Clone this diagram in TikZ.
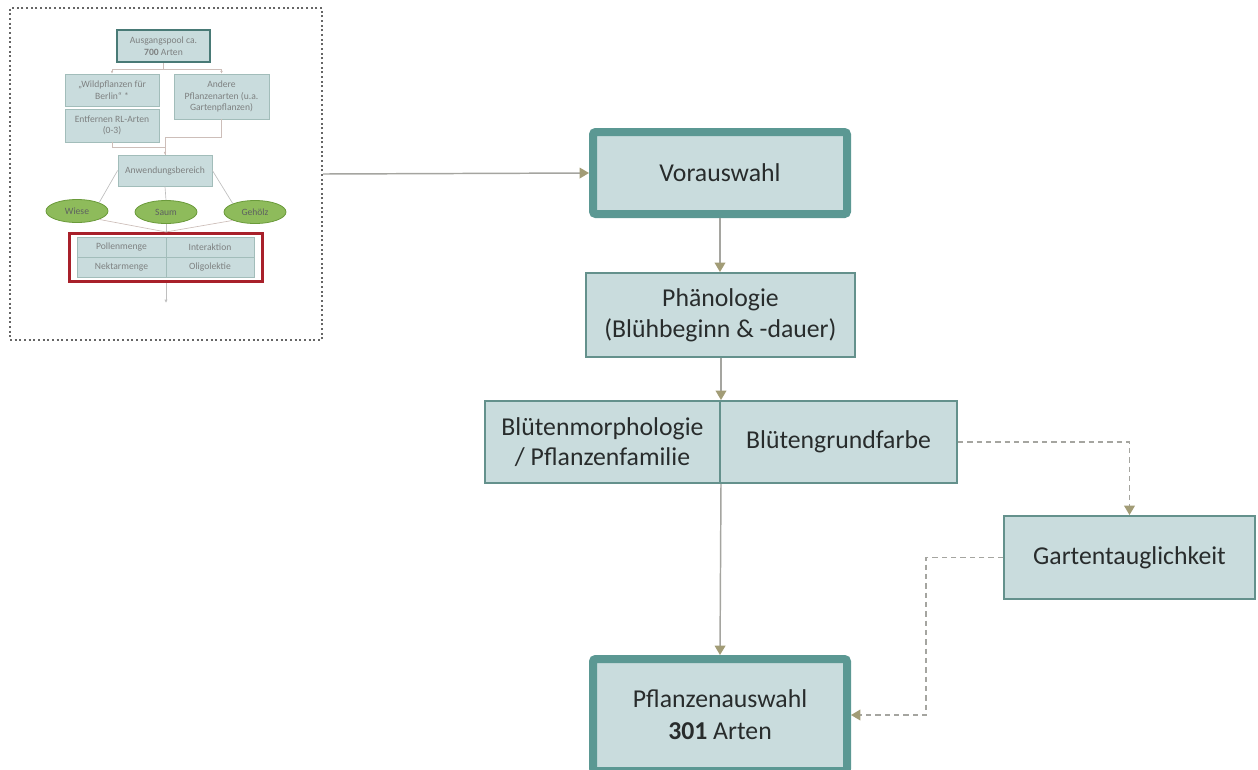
\documentclass[tikz,border=0pt]{standalone}
\usepackage{fontspec}
\setmainfont{Carlito}
\usetikzlibrary{arrows.meta,shapes.geometric}
\definecolor{boxfill}{RGB}{201,220,221}
\definecolor{thinb}{RGB}{100,145,140}
\definecolor{thickb}{RGB}{91,152,147}
\definecolor{arrline}{RGB}{165,165,160}
\definecolor{arrhead}{RGB}{162,156,118}
\definecolor{txt}{RGB}{40,44,44}
\definecolor{elfill}{RGB}{142,187,91}
\definecolor{elbord}{RGB}{106,154,58}
\definecolor{redb}{RGB}{168,32,42}
\definecolor{thline}{RGB}{205,190,185}
\begin{document}
\begin{tikzpicture}[x=0.75pt,y=-0.75pt,
  box/.style={draw=thinb,fill=boxfill,line width=1.5pt,inner sep=0pt,align=center,text=txt,font=\fontsize{19.3}{23}\selectfont},
  bigbox/.style={box,draw=thickb,line width=6pt,rounded corners=2pt,font=\fontsize{19.3}{24}\selectfont},
  conn/.style={draw=arrline,line width=1.1pt,-{Triangle[width=8pt,length=7pt,fill=arrhead,color=arrhead]}},
  dconn/.style={conn,dash pattern=on 4pt off 3pt},
  tbox/.style={draw=thinb!60,fill=boxfill,line width=0.6pt,inner sep=0pt,align=center,text=txt!60,font=\fontsize{7.2}{8.6}\selectfont},
  tel/.style={ellipse,draw=elbord,fill=elfill,line width=0.6pt,inner sep=0pt,minimum width=46.5pt,minimum height=17.25pt,text=txt!75,font=\fontsize{7.2}{8.6}\selectfont},
  tline/.style={draw=thline,line width=0.5pt},
  tgline/.style={draw=black!25,line width=0.5pt}]
\useasboundingbox (0,0) rectangle (1258,769);

% thumbnail frame
\node[draw=black!60,line width=1.5pt,dash pattern=on 1.5pt off 2pt,minimum width=234pt,minimum height=249pt,inner sep=0pt] (frame) at (166,174) {};

% thumbnail nodes
\node[tbox,draw=thickb!80!black,line width=1.5pt,minimum width=69.75pt,minimum height=24pt] (ausg) at (163.5,46) {Ausgangspool ca.\\\textbf{700} Arten};
\node[tbox,minimum width=70.5pt,minimum height=24pt] (wild) at (112,90) {„Wildpflanzen für\\Berlin“ *};
\node[tbox,minimum width=70.5pt,minimum height=24.75pt] (entf) at (112,125.5) {Entfernen RL-Arten\\(0-3)};
\node[tbox,minimum width=71.25pt,minimum height=33.75pt] (andere) at (221.5,96.5) {Andere\\Pflanzenarten (u.a.\\Gartenpflanzen)};
\node[tbox,minimum width=70.5pt,minimum height=23.25pt] (anw) at (165,170.5) {Anwendungsbereich};
\node[tel] (wiese) at (77,211) {Wiese};
\node[tel] (saum) at (166,212) {Saum};
\node[tel] (gehoelz) at (255,212) {Gehölz};
\node[draw=redb,line width=2.3pt,minimum width=144.75pt,minimum height=36pt,inner sep=0pt] (red) at (166,257.5) {};
\node[tbox,minimum width=66.75pt,minimum height=15pt] (pollen) at (121.5,247) {Pollenmenge};
\node[tbox,minimum width=66pt,minimum height=15pt] (inter) at (210,247) {Interaktion};
\node[tbox,minimum width=66.75pt,minimum height=15pt] (nektar) at (121.5,267) {Nektarmenge};
\node[tbox,minimum width=66pt,minimum height=15pt] (oligo) at (210,267) {Oligolektie};
\coordinate (tend) at (166,303);

% thumbnail connectors
\draw[tline,-{Latex[length=2pt,width=2pt]}] (ausg.south) -- ++(0,6) -| (wild.north);
\draw[tline,-{Latex[length=2pt,width=2pt]}] (ausg.south) -- ++(0,6) -| (andere.north);
\draw[tline] (entf.south) -- ++(0,5) -| (anw.north);
\draw[tline,-{Latex[length=2pt,width=2pt]}] (andere.south) -- ++(0,18) -| (anw.north);
\draw[tgline] (anw.west) -- (wiese.north east);
\draw[tgline] (anw.east) -- (gehoelz.north west);
\draw[tgline] (anw.south) -- (saum.north);
\draw[tline] (wiese.south east) -- (red.north);
\draw[tline] (gehoelz.south west) -- (red.north);
\draw[tgline] (saum.south) -- (red.north);
\draw[tgline,-{Latex[length=2.5pt,width=2.5pt]}] (red.south) -- (tend);

% main nodes
\node[bigbox,minimum width=190.5pt,minimum height=61.5pt] (vor) at (720,173) {Vorauswahl};
\node[box,minimum width=201.75pt,minimum height=63pt] (phaen) at (720.5,315) {Phänologie\\(Blühbeginn \& -dauer)};
\node[box,minimum width=176.25pt,minimum height=61.5pt] (morph) at (602.5,442) {Blütenmorphologie\\/ Pflanzenfamilie};
\node[box,minimum width=177.75pt,minimum height=61.5pt] (farbe) at (838.5,442) {Blütengrundfarbe};
\node[box,minimum width=188.25pt,minimum height=62.25pt] (garten) at (1129.5,557.5) {Gartentauglichkeit};
\node[bigbox,minimum width=190.5pt,minimum height=84pt] (pflanz) at (720,715) {Pflanzenauswahl\\\textbf{301} Arten};

% main connectors
\draw[conn] (frame.east) -- (vor.west);
\draw[conn] (vor.south) -- (vor.south |- phaen.north);
\draw[conn] (phaen.south -| morph.north east) -- (morph.north east);
\draw[conn] (morph.south east) -- (pflanz.north);
\draw[dconn] (farbe.east) -| (garten.north);
\draw[dconn] (garten.west) -- ++(-77,0) |- (pflanz.east);
\end{tikzpicture}
\end{document}
